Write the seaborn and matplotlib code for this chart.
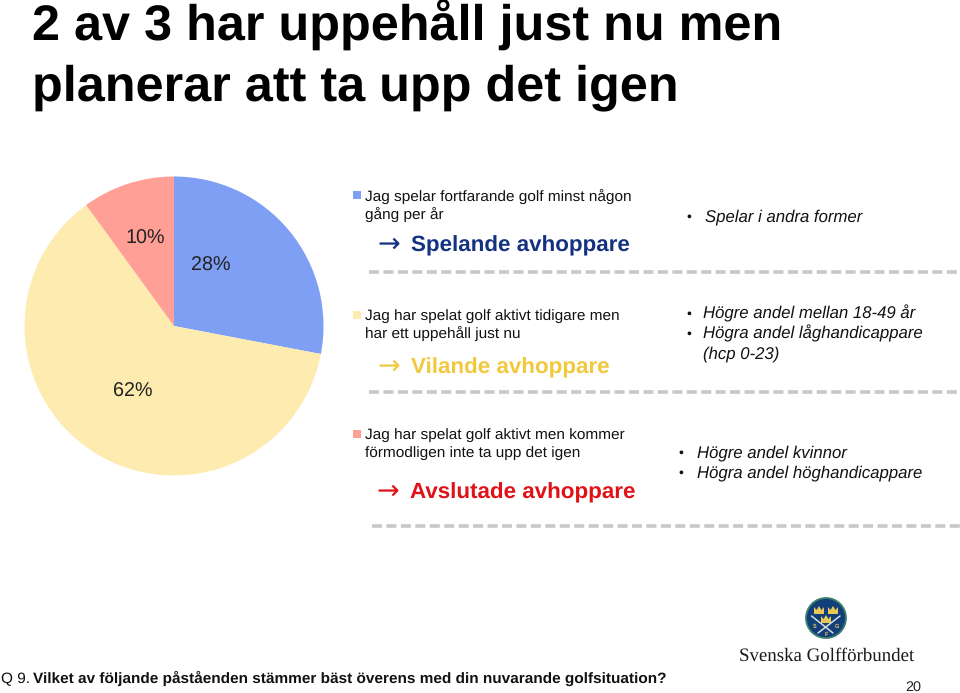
import matplotlib
matplotlib.use("Agg")
import matplotlib.pyplot as plt
from matplotlib.patches import Circle, Rectangle, Polygon
import seaborn as sns

sns.set_theme(style="white")
FONT = ["Liberation Sans", "DejaVu Sans"]
plt.rcParams["font.family"] = FONT
plt.rcParams["text.hinting"] = "no_hinting"
plt.rcParams["text.hinting_factor"] = 8

# ---- data ----
shares = [28, 62, 10]
share_labels = ["28%", "62%", "10%"]
slice_colors = ["#7F9FF4", "#FDEBB0", "#FF9F96"]
title_lines = ["2 av 3 har uppehåll just nu men", "planerar att ta upp det igen"]
statements = [["Jag spelar fortfarande golf minst någon", "gång per år"],
              ["Jag har spelat golf aktivt tidigare men", "har ett uppehåll just nu"],
              ["Jag har spelat golf aktivt men kommer", "förmodligen inte ta upp det igen"]]
groups = ["Spelande avhoppare", "Vilande avhoppare", "Avslutade avhoppare"]
group_colors = ["#143282", "#F2C83C", "#E01218"]
notes = [["Spelar i andra former"],
         ["Högre andel mellan 18-49 år", "Högra andel låghandicappare", "(hcp 0-23)"],
         ["Högre andel kvinnor", "Högra andel höghandicappare"]]
question_no = "Q 9."
question = "Vilket av följande påståenden stämmer bäst överens med din nuvarande golfsituation?"
logo_name = "Svenska Golfförbundet"
page_no = "20"

W, H = 960, 693
fig = plt.figure(figsize=(W / 100, H / 100), dpi=100, facecolor="white")

# pie
cx, cy, r = 174, 326, 149.5
pie_ax = fig.add_axes([(cx - r) / W, 1 - (cy + r) / H, 2 * r / W, 2 * r / H])
pie_ax.pie(shares, colors=slice_colors, startangle=90, counterclock=False,
           radius=1, wedgeprops={"linewidth": 0})
pie_ax.set_xlim(-1, 1)
pie_ax.set_ylim(-1, 1)

# overlay in pixel coordinates
ax = fig.add_axes([0, 0, 1, 1])
ax.set_xlim(0, W)
ax.set_ylim(H, 0)
ax.axis("off")
ax.patch.set_alpha(0)


def txt(x, y, s, size, **kw):
    kw.setdefault("color", "black")
    kw.setdefault("va", "baseline")
    kw.setdefault("ha", "left")
    ax.text(x, y, s, fontsize=size, **kw)


# title
txt(32, 40, title_lines[0], 36.3, fontweight="bold", color="black")
txt(32, 100, title_lines[1], 36.3, fontweight="bold", color="black")

# share labels
for (x, y), s in zip([(211, 271), (133, 397), (145, 244)], share_labels):
    txt(x, y, s, 14.2, ha="center", color="#222222")

# left column
stmt_y = [(201, 219), (320, 338), (439, 457)]
mark_y = [195, 315, 434]
for i in range(3):
    ax.add_patch(Rectangle((353, mark_y[i] - 4), 8, 8, color=slice_colors[i], lw=0))
    for y, s in zip(stmt_y[i], statements[i]):
        txt(365, y, s, 11.1, color="#111111")

group_pos = [(379, 251), (379, 373), (378, 498)]
for i in range(3):
    x, y = group_pos[i]
    txt(x - 2, y + 1, "→", 19.5, color=group_colors[i], family=["DejaVu Sans"])
    txt(x + 32, y, groups[i], 16.1, fontweight="bold", color=group_colors[i])

# dashed rules
for y, x0 in [(271.7, 369), (391.7, 369), (526, 372)]:
    ax.plot([x0, 960], [y, y], color="#C8C8C8", lw=2.6,
            dashes=(2.77, 1.23), dash_capstyle="butt")

# notes
note_pos = [[(705, 221)], [(703, 318), (703, 338), (703, 358)], [(697, 457), (697, 477)]]
bullet_x = [686, 686, 678]
for i in range(3):
    for (x, y), s in zip(note_pos[i], notes[i]):
        if not s.startswith("("):
            txt(bullet_x[i], y, "•", 10, color="#111111")
        txt(x, y, s, 12.05, fontstyle="italic", color="#111111")

# footer
txt(1, 683, question_no, 11.1, color="#111111")
txt(33, 683, question, 11.1, fontweight="bold", color="#111111")
txt(905, 691, page_no, 10.4, color="#222222")

# logo
lx, ly = 826, 618
ax.add_patch(Circle((lx, ly), 20, fc="#123F7A", ec="#3E7F6E", lw=1.3))
for px, py in [(819, 610), (833, 610), (826, 619)]:
    ax.add_patch(Polygon([(px - 5, py + 4), (px - 5, py - 3), (px - 2.5, py), (px, py - 4),
                          (px + 2.5, py), (px + 5, py - 3), (px + 5, py + 4)],
                         fc="#E9C75A", lw=0))
ax.plot([811.5, 833], [616, 633], color="#D8DDE0", lw=1.1)
ax.plot([840, 818], [616, 633], color="#D8DDE0", lw=1.1)
for px, py, s in [(815, 628, "S"), (837, 628, "G"), (826, 636, "F")]:
    txt(px, py, s, 4, ha="center", color="#E9C75A", fontweight="bold")
txt(739, 661, logo_name, 13.6, color="#1A1A1A", family=["Liberation Serif"])

fig.savefig("out.png", dpi=100, facecolor="white")
